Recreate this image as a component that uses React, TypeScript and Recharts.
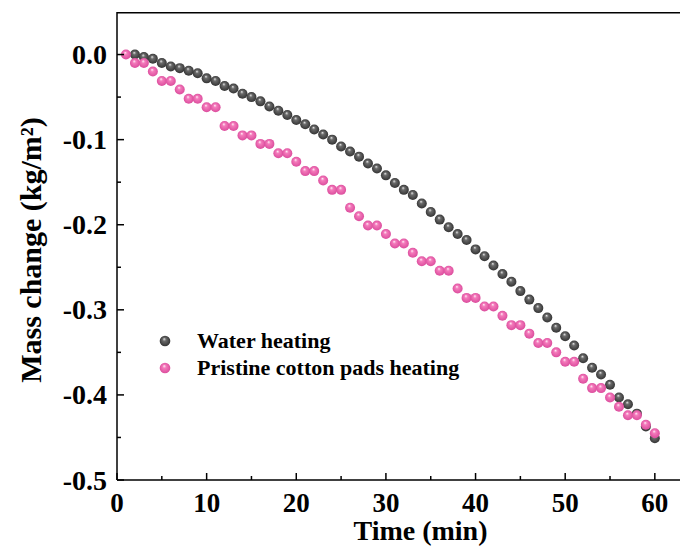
import { ScatterChart, Scatter, XAxis, YAxis, Legend, ReferenceLine } from 'recharts';

// time (min) and mass change (kg/m2)
const waterTime = [
  2, 3, 4, 5, 6, 7, 8, 9, 10, 11, 12, 13, 14, 15, 16, 17, 18, 19, 20, 21,
  22, 23, 24, 25, 26, 27, 28, 29, 30, 31, 32, 33, 34, 35, 36, 37, 38, 39, 40, 41,
  42, 43, 44, 45, 46, 47, 48, 49, 50, 51, 52, 53, 54, 55, 56, 57, 58, 59, 60,
];
const waterMass = [
  0.0, -0.003, -0.005, -0.01, -0.014, -0.016, -0.019, -0.022, -0.028, -0.031,
  -0.037, -0.04, -0.046, -0.05, -0.055, -0.061, -0.066, -0.071, -0.077, -0.082,
  -0.088, -0.094, -0.1, -0.108, -0.114, -0.12, -0.128, -0.134, -0.142, -0.151,
  -0.159, -0.165, -0.175, -0.185, -0.194, -0.203, -0.211, -0.218, -0.229, -0.237,
  -0.248, -0.258, -0.267, -0.278, -0.288, -0.298, -0.309, -0.321, -0.331, -0.342,
  -0.357, -0.368, -0.376, -0.388, -0.403, -0.411, -0.422, -0.437, -0.451,
];

const cottonTime = [
  1, 2, 3, 4, 5, 6, 7, 8, 9, 10, 11, 12, 13, 14, 15, 16, 17, 18, 19, 20,
  21, 22, 23, 24, 25, 26, 27, 28, 29, 30, 31, 32, 33, 34, 35, 36, 37, 38, 39, 40,
  41, 42, 43, 44, 45, 46, 47, 48, 49, 50, 51, 52, 53, 54, 55, 56, 57, 58, 59, 60,
];
const cottonMass = [
  0.0, -0.01, -0.01, -0.02, -0.031, -0.031, -0.041, -0.052, -0.052, -0.062,
  -0.062, -0.084, -0.084, -0.095, -0.095, -0.105, -0.105, -0.116, -0.116, -0.126,
  -0.137, -0.137, -0.148, -0.159, -0.159, -0.18, -0.19, -0.201, -0.201, -0.211,
  -0.222, -0.222, -0.233, -0.243, -0.243, -0.254, -0.254, -0.275, -0.286, -0.286,
  -0.296, -0.296, -0.307, -0.318, -0.318, -0.328, -0.339, -0.339, -0.35, -0.361,
  -0.361, -0.381, -0.392, -0.392, -0.403, -0.414, -0.424, -0.424, -0.435, -0.445,
];

const xTicks = [0, 5, 10, 15, 20, 25, 30, 35, 40, 45, 50, 55, 60];
const yTicks = [0, -0.05, -0.1, -0.15, -0.2, -0.25, -0.3, -0.35, -0.4, -0.45, -0.5];
const seriesNames = ['Water heating', 'Pristine cotton pads heating'];

const FONT = '"Liberation Serif", "Times New Roman", serif';
const CHART_W = 680;
const CHART_H = 542;
const PLOT_TOP = 4;
const Y_AXIS_W = 109;
const Y_MAX = 0.05;
const WATER_COLOR = '#4d4d4d';
const COTTON_COLOR = '#f06ab2';
const GRAD: Record<string, string> = {
  [WATER_COLOR]: 'ballWater',
  [COTTON_COLOR]: 'ballCotton',
};

const waterData = waterTime.map((t, i) => ({ t, m: waterMass[i] }));
const cottonData = cottonTime.map((t, i) => ({ t, m: cottonMass[i] }));

const ball = (grad: string) => (props: any) => (
  <circle cx={props.cx} cy={props.cy} r={5} fill={`url(#${grad})`} />
);

const XTick = ({ x, y, payload }: any) => {
  const major = payload.value % 10 === 0;
  return (
    <g>
      <line x1={x} y1={y} x2={x} y2={y - (major ? 7 : 4)} stroke="#000" strokeWidth={1.5} />
      {major && (
        <text x={x} y={y + 32} textAnchor="middle" fontFamily={FONT} fontWeight="bold" fontSize={27} fill="#000">
          {payload.value}
        </text>
      )}
    </g>
  );
};

const YTick = ({ x, y, payload }: any) => {
  const v = payload.value;
  const major = Math.abs(v * 10 - Math.round(v * 10)) < 1e-6;
  const label = Math.abs(v) < 1e-9 ? '0.0' : v.toFixed(1);
  return (
    <g>
      <line x1={x} y1={y} x2={x + (major ? 7 : 4)} y2={y} stroke="#000" strokeWidth={1.5} />
      {major && (
        <text x={x - 10} y={y} dy="0.34em" textAnchor="end" fontFamily={FONT} fontWeight="bold" fontSize={28} fill="#000">
          {label}
        </text>
      )}
    </g>
  );
};

const XLabel = ({ viewBox }: any) => (
  <text
    x={viewBox.x + viewBox.width / 2 + 18}
    y={viewBox.y + 60}
    textAnchor="middle"
    fontFamily={FONT}
    fontWeight="bold"
    fontSize={28}
    fill="#000"
  >
    Time (min)
  </text>
);

const YLabel = ({ viewBox }: any) => {
  const cx = viewBox.x + 33;
  const cy = viewBox.y + viewBox.height / 2 + 4;
  return (
    <text
      x={cx}
      y={cy}
      transform={`rotate(-90 ${cx} ${cy})`}
      textAnchor="middle"
      fontFamily={FONT}
      fontWeight="bold"
      fontSize={30}
      fill="#000"
    >
      Mass change (kg/m²)
    </text>
  );
};

const LegendContent = ({ payload }: any) => {
  const items = [...(payload || [])].sort(
    (a: any, b: any) => seriesNames.indexOf(a.value) - seriesNames.indexOf(b.value),
  );
  return (
    <div style={{ fontFamily: FONT, fontWeight: 'bold', fontSize: 22, color: '#000' }}>
      {items.map((p: any) => (
        <div key={p.value} style={{ display: 'flex', alignItems: 'center', height: 27 }}>
          <svg width={14} height={14} style={{ marginRight: 25 }}>
            <circle cx={7} cy={7} r={5.3} fill={`url(#${GRAD[p.color] || 'ballWater'})`} />
          </svg>
          <span style={{ whiteSpace: 'nowrap' }}>{p.value}</span>
        </div>
      ))}
    </div>
  );
};

export default function App() {
  return (
    <div style={{ position: 'relative', width: CHART_W, height: CHART_H }}>
      <ScatterChart
        width={CHART_W}
        height={CHART_H}
        margin={{ top: PLOT_TOP, right: 0, bottom: 0, left: 0 }}
        style={{ overflow: 'visible' }}
      >
        <defs>
          <radialGradient id="ballWater" cx="0.5" cy="0.5" r="0.55" fx="0.42" fy="0.3">
            <stop offset="0%" stopColor="#e6e6e6" />
            <stop offset="30%" stopColor="#6a6a6a" />
            <stop offset="100%" stopColor="#2e2e2e" />
          </radialGradient>
          <radialGradient id="ballCotton" cx="0.5" cy="0.5" r="0.55" fx="0.42" fy="0.3">
            <stop offset="0%" stopColor="#fff0f8" />
            <stop offset="30%" stopColor="#f47abb" />
            <stop offset="100%" stopColor="#d9489a" />
          </radialGradient>
        </defs>
        <XAxis
          dataKey="t"
          type="number"
          domain={[0, 63.7]}
          ticks={xTicks}
          interval={0}
          tickSize={0}
          tickMargin={0}
          tickLine={false}
          tick={<XTick />}
          height={70}
          axisLine={{ stroke: '#000', strokeWidth: 1.5 }}
          label={XLabel}
        />
        <YAxis
          dataKey="m"
          type="number"
          domain={[-0.5, Y_MAX]}
          ticks={yTicks}
          interval={0}
          tickSize={0}
          tickMargin={0}
          tickLine={false}
          tick={<YTick />}
          width={Y_AXIS_W}
          axisLine={{ stroke: '#000', strokeWidth: 1.5 }}
          label={YLabel}
        />
        {/* top frame line of the plot box */}
        <ReferenceLine y={Y_MAX - 0.0008} stroke="#000" strokeWidth={1.6} ifOverflow="visible" />
        <Legend
          layout="vertical"
          align="center"
          verticalAlign="middle"
          content={<LegendContent />}
          wrapperStyle={{ left: 150, top: 319.5, width: 'auto', height: 'auto' }}
        />
        <Scatter
          name={seriesNames[0]}
          data={waterData}
          dataKey="m"
          fill={WATER_COLOR}
          shape={ball('ballWater')}
          isAnimationActive={false}
        />
        <Scatter
          name={seriesNames[1]}
          data={cottonData}
          dataKey="m"
          fill={COTTON_COLOR}
          shape={ball('ballCotton')}
          isAnimationActive={false}
        />
      </ScatterChart>
    </div>
  );
}
